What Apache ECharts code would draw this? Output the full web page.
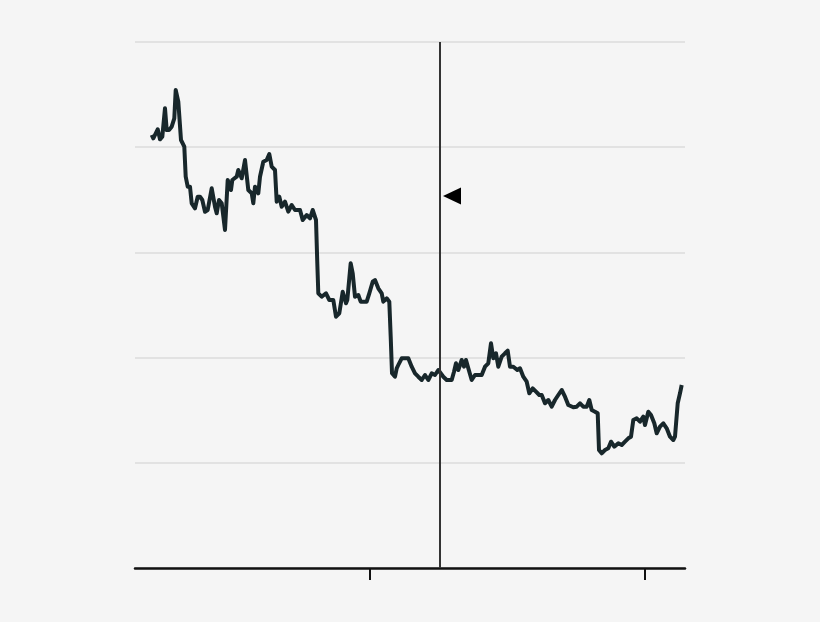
<!DOCTYPE html>
<html>
<head>
<meta charset="utf-8">
<script src="https://cdn.jsdelivr.net/npm/echarts@6/dist/echarts.min.js"></script>
<style>
html,body{margin:0;padding:0;background:#f5f5f5;}
#c{width:820px;height:622px;}
</style>
</head>
<body>
<div id="c"></div>
<script>
// x positions (time units) and values
const xs = [16.7,18.3,22.7,25,27.3,30,31.7,34,36.7,39.3,40.7,43.3,46,49.3,50.7,52.7,55,56.7,60,62.7,65,67.3,70,72.7,76.7,80,81.7,84,86.7,90,92.7,96,97.3,101.7,103.3,106.7,110,113.3,116.7,118.3,120,123.3,125,128.3,131.7,134.3,136.7,140,141.7,144.3,146.7,150,153.3,156.7,160,165,167.7,171.7,175,177.7,181,182.3,183.3,186.7,191,194.3,198.3,201,204.3,207.7,211,212.3,215.7,217.7,220,223.3,225.7,231.7,234.3,237.7,240,243.3,246.7,248.3,251.7,254.3,255.7,257,260,261.7,263.3,266.7,273.3,276.7,280,283.3,286.7,290,293.3,296.7,300,303.3,305,308.3,311.7,316.7,319,321,323.3,326.7,329,331,333.3,336.7,340,346.7,350,353.3,356,358.3,361,363.3,366.7,370,372.7,375,378.3,382.3,385,388.3,391.7,394.3,397.7,401,404.3,406.7,410,413.3,416.7,420,423.3,426.7,430,433.3,438.3,441.7,445,448.3,451.7,454.3,456.7,460,462.7,464,466.7,470,473.3,476,479.3,483.3,486.7,490,493.3,496,498.3,501.7,505,508.3,510,513.3,516,519.3,521.7,525,528.3,531.7,535,538.3,540,542.7,545,546.7];
const values = [433,429.7,438.7,428.7,431.3,459.7,438,438,441.3,449.7,478,466.3,428,421.3,391.3,381.3,381.3,364.7,359.7,371.3,371.3,368,356.3,358,379.7,361.3,354.7,368,364.7,338,388,378,388,391.3,398,389.7,408,378,374.7,364.7,381.3,374.7,391.3,406.3,408,414,401.3,398,366.3,371.3,361.3,366.3,356.3,363,358,358,348,353,349.7,358,348,304.7,274.7,271.3,274.7,268,268,251.3,254.7,276.3,264.7,268,304.7,294.7,271.3,273,266.3,266.3,274.7,286.3,288,279.7,274.7,266.3,269.7,266.3,231.3,194.7,191.3,199.7,203,209.7,209.7,201.3,194.7,191.3,188,193,188,194.7,193,198,198,191.3,188,188,196.3,204.7,198,208,201.3,208,199.7,188,193,193,201.3,204.7,224.7,209.7,214.7,201.3,211.3,214.7,217.3,201.3,201.3,198,199.7,191.3,186.3,174.7,179.7,176.3,173,173,164.7,168,161.3,168,173,178,171.3,163,160.7,161.3,164.7,161.3,161.3,168,158,156.3,154.7,118,114.7,118,119.7,126.3,121.3,124.7,123,126.3,129.7,131.3,148,149.7,146.3,151.3,143,156.3,153,144.7,134.7,141.3,144.7,139.7,131.3,128,131.3,164.7,174.7,183];
const xTicks = [235, 510];
const markerX = 305;
const flagPoint = [317, 372];

const chart = echarts.init(document.getElementById('c'));
chart.setOption({
  backgroundColor: '#f5f5f5',
  animation: false,
  grid: {left: 135, right: 135, top: 42, bottom: 54},
  xAxis: {
    type: 'value', min: 0, max: 550,
    axisLine: {show: true, lineStyle: {color: '#111', width: 2.5}},
    axisTick: {show: true, customValues: xTicks, length: 12, lineStyle: {color: '#111', width: 2}},
    axisLabel: {show: false},
    splitLine: {show: false}
  },
  yAxis: {
    type: 'value', min: 0, max: 526, interval: 105.2,
    axisLine: {show: false}, axisTick: {show: false}, axisLabel: {show: false},
    splitLine: {show: true, lineStyle: {color: '#e2e2e2', width: 2}}
  },
  series: [{
    type: 'line',
    data: xs.map((x, i) => [x, values[i]]),
    showSymbol: false,
    lineStyle: {color: '#18272b', width: 4, join: 'round'},
    markLine: {
      silent: true, symbol: ['none', 'none'], label: {show: false},
      lineStyle: {color: '#333', width: 2, type: 'solid'},
      data: [{xAxis: markerX}]
    },
    markPoint: {
      silent: true, label: {show: false},
      data: [{coord: flagPoint, symbol: 'triangle', symbolSize: [17, 18], symbolRotate: 90, itemStyle: {color: '#000'}}]
    }
  }]
});
</script>
</body>
</html>
